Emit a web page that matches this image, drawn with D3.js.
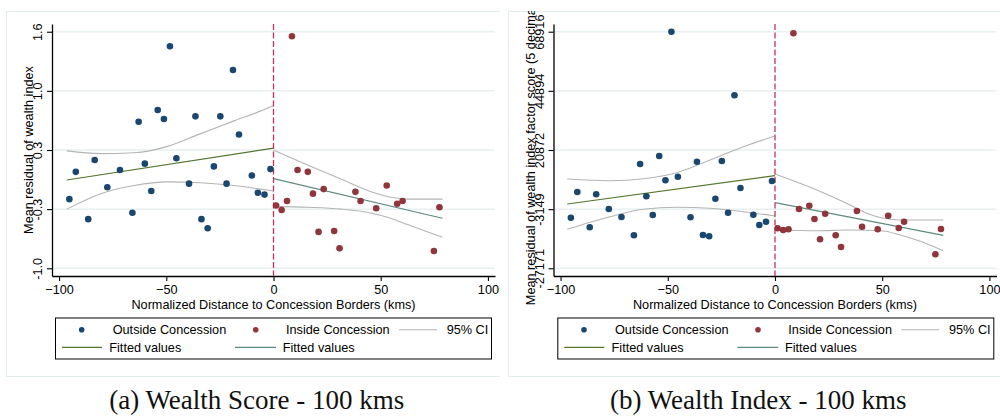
<!DOCTYPE html>
<html>
<head>
<meta charset="utf-8">
<script src="https://cdn.jsdelivr.net/npm/d3@7"></script>
<style>
  body { margin: 0; background: #fff; }
  svg { display: block; font-family: "Liberation Sans", Arial, sans-serif; }
</style>
</head>
<body>
<svg id="chart" width="1000" height="416"></svg>
<script>
// ---- data ----
var xTicks = [-100, -50, 0, 50, 100];

var scoreTicks = [-1.0, -0.35, 0.3, 0.95, 1.6];
var scoreTickLabels = ["-1.0", "-0.3", "0.3", "1.0", "1.6"];
var indexTicks = [-27171, -3149, 20872, 44894, 68916];
var indexTickLabels = ["-27171", "-3149", "20872", "44894", "68916"];

var outsideX = [-95.2, -92.2, -86.4, -83.4, -77.5, -71.6, -65.8, -62.9, -60.0, -57.0, -54.0, -51.1, -48.3, -45.3,
    -39.4, -36.4, -33.6, -30.7, -27.8, -24.8, -21.9, -18.9, -16.1, -10.1, -7.3, -4.2, -1.4];
var insideX = [1.2, 3.8, 6.3, 8.6, 11.2, 16.0, 18.4, 21.0, 23.4, 28.3, 30.8, 38.2, 40.6, 47.9, 52.8, 57.7, 60.2, 74.8, 77.4];

var scoreOutside = [-0.24, 0.06, -0.46, 0.19, -0.11, 0.08, -0.39, 0.61, 0.15, -0.15, 0.74, 0.64, 1.44, 0.21,
    -0.07, 0.67, -0.46, -0.56, 0.12, 0.67, -0.07, 1.18, 0.47, 0.02, -0.17, -0.19, 0.09];
var scoreInside = [-0.31, -0.36, -0.26, 1.55, 0.08, 0.06, -0.18, -0.60, -0.13, -0.59, -0.78, -0.16, -0.26,
    -0.34, -0.09, -0.29, -0.26, -0.81, -0.33];

var indexOutside = [-6619, 3818, -10517, 2884, -3086, -6334, -13766, 15189, 2072, -5522, 18438, 8570, 68916, 10031,
    -6456, 16123, -13644, -14172, 1097, 16407, -4588, 43088, 5443, -5400, -9583, -8243, 8285];
var indexInside = [-10923, -11614, -11329, 68266, -3086, -1745, -7147, -15390, -4994, -13766, -18517, -3898, -10274,
    -11329, -5806, -10801, -8243, -21482, -11208];

// fitted lines and 95% CI bands
var scoreFitOutX = [-96.4, 0], scoreFitOut = [-0.03, 0.32];
var scoreFitInX = [0, 78.8], scoreFitIn = [-0.015, -0.45];
var scoreCiOutX = [-96.4, -80.5, -65.0, -49.4, -33.9, -18.4, -5.9, 0];
var scoreCiOutHi = [0.29, 0.26, 0.27, 0.34, 0.48, 0.62, 0.73, 0.79];
var scoreCiOutLo = [-0.35, -0.18, -0.09, -0.05, -0.06, -0.09, -0.13, -0.15];
var scoreCiInX = [0, 15.9, 31.4, 46.9, 54.7, 62.5, 78.8];
var scoreCiInHi = [0.30, 0.135, -0.02, -0.17, -0.22, -0.24, -0.24];
var scoreCiInLo = [-0.32, -0.33, -0.35, -0.40, -0.45, -0.52, -0.66];

var indexFitOutX = [-96.9, 0], indexFitOut = [-1055, 10438];
var indexFitInX = [0, 78.5], indexFitIn = [-527, -13766];
var indexCiOutX = [-96.9, -77.0, -61.4, -45.9, -30.3, -14.8, 0];
var indexCiOutHi = [9097, 8407, 9219, 11656, 16813, 22214, 26560];
var indexCiOutLo = [-11329, -6213, -3207, -2395, -2801, -4182, -5928];
var indexCiInHiX = [0, 19.5, 35.0, 42.8, 50.5, 58.3, 78.5];
var indexCiInHi = [11128, 4630, -1461, -4832, -6862, -7553, -7553];
var indexCiInLoX = [0, 19.5, 35.0, 50.5, 58.3, 66.1, 78.5];
var indexCiInLo = [-11614, -11898, -11614, -12020, -13644, -15675, -20020];

var legendLabels = ["Outside Concession", "Inside Concession", "95% CI", "Fitted values", "Fitted values"];
var captions = ["(a) Wealth Score - 100 kms", "(b) Wealth Index - 100 kms"];

var colOut = "#1a476f", colIn = "#90353b", colCi = "#b4b4b4",
    colFitOut = "#55752f", colFitIn = "#5f8a80", colLine = "#c8325a",
    colGrid = "#e8f0f1", colFrame = "#e4edee";
var fs = "12.7px";

var svg = d3.select("#chart");
svg.append("rect").attr("width", 1000).attr("height", 416).attr("fill", "#fff");

function zip(xs, ys) {
    return xs.map(function(d, i) { return [d, ys[i]]; });
}

function DrawPanel(p) {
    var g = svg.append("g");
    var clipId = "clip" + p.id;
    svg.append("clipPath").attr("id", clipId)
        .append("rect").attr("x", p.left - 2).attr("y", 11).attr("width", 496).attr("height", 366);
    g.attr("clip-path", "url(#" + clipId + ")");

    // light frame around the graph region
    g.append("rect")
        .attr("x", p.left + 0.5).attr("y", 11.5)
        .attr("width", p.frameW).attr("height", 365)
        .attr("fill", "none").attr("stroke", colFrame).attr("stroke-width", 1.2);

    var x = d3.scaleLinear().domain([-103.3, 103.3]).range([p.plotL, p.plotL + 443]);
    var y = d3.scaleLinear().domain(p.yDomain).range([276, 24]);

    // grid
    g.selectAll(".grid").data(p.yTicks).enter().append("line")
        .attr("x1", p.plotL).attr("x2", p.plotL + 443)
        .attr("y1", function(d) { return y(d); }).attr("y2", function(d) { return y(d); })
        .attr("stroke", colGrid).attr("stroke-width", 1.5);

    // axes
    var yAxis = g.append("g").attr("transform", "translate(" + p.plotL + ",0)")
        .call(d3.axisLeft(y).tickValues(p.yTicks).tickSize(5).tickSizeOuter(0)
            .tickFormat(function(d, i) { return p.yLabels[i]; }));
    yAxis.select(".domain").attr("stroke", "#000").attr("stroke-width", 1.3);
    yAxis.selectAll(".tick line").attr("stroke", "#000").attr("stroke-width", 1.1);
    yAxis.selectAll(".tick text")
        .attr("transform", "rotate(-90)")
        .attr("x", 0).attr("y", -10).attr("dy", 0)
        .attr("text-anchor", "middle")
        .style("font-size", fs).style("font-family", "Liberation Sans, Arial, sans-serif").attr("fill", "#000");

    var xAxis = g.append("g").attr("transform", "translate(0,276)")
        .call(d3.axisBottom(x).tickValues(xTicks).tickSize(5).tickSizeOuter(0));
    xAxis.select(".domain").attr("stroke", "#000").attr("stroke-width", 1.3);
    xAxis.selectAll(".tick line").attr("stroke", "#000").attr("stroke-width", 1.1);
    xAxis.selectAll(".tick text").attr("y", 8.5).attr("dy", "0.71em")
        .style("font-size", fs).style("font-family", "Liberation Sans, Arial, sans-serif").attr("fill", "#000");

    // axis titles
    g.append("text")
        .attr("transform", "translate(" + (p.plotL - 19) + ",150) rotate(-90)")
        .attr("text-anchor", "middle").style("font-size", fs)
        .text(p.yTitle);
    g.append("text")
        .attr("x", x(0)).attr("y", 308.8)
        .attr("text-anchor", "middle").style("font-size", fs)
        .text("Normalized Distance to Concession Borders (kms)");

    var line = d3.line()
        .x(function(d) { return x(d[0]); })
        .y(function(d) { return y(d[1]); })
        .curve(d3.curveMonotoneX);

    // confidence bands
    [p.ciOutHi, p.ciOutLo, p.ciInHi, p.ciInLo].forEach(function(c) {
        g.append("path").datum(c).attr("d", line)
            .attr("fill", "none").attr("stroke", colCi).attr("stroke-width", 1.1);
    });
    g.append("path").datum(p.fitOut).attr("d", line)
        .attr("fill", "none").attr("stroke", colFitOut).attr("stroke-width", 1.2);
    g.append("path").datum(p.fitIn).attr("d", line)
        .attr("fill", "none").attr("stroke", colFitIn).attr("stroke-width", 1.2);

    // border line at 0
    g.append("line")
        .attr("x1", x(0)).attr("x2", x(0)).attr("y1", 24).attr("y2", 276)
        .attr("stroke", colLine).attr("stroke-width", 1.3)
        .attr("stroke-dasharray", "6,2.5");

    g.selectAll(".out").data(p.outside).enter().append("circle")
        .attr("cx", function(d) { return x(d[0]); })
        .attr("cy", function(d) { return y(d[1]); })
        .attr("r", 3.3).attr("fill", colOut);
    g.selectAll(".in").data(p.inside).enter().append("circle")
        .attr("cx", function(d) { return x(d[0]); })
        .attr("cy", function(d) { return y(d[1]); })
        .attr("r", 3.3).attr("fill", colIn);

    // legend
    var lg = g.append("g").attr("transform", "translate(" + p.legendL + ",317.5)");
    lg.append("rect").attr("x", 0.5).attr("y", 0.5).attr("width", 436).attr("height", 41)
        .attr("fill", "#fff").attr("stroke", "#000").attr("stroke-width", 1);
    lg.append("circle").attr("cx", 26.7).attr("cy", 12.3).attr("r", 2.8).attr("fill", colOut);
    lg.append("circle").attr("cx", 200.7).attr("cy", 12.3).attr("r", 2.8).attr("fill", colIn);
    lg.append("line").attr("x1", 344).attr("x2", 382).attr("y1", 12.3).attr("y2", 12.3)
        .attr("stroke", colCi).attr("stroke-width", 1.1);
    lg.append("line").attr("x1", 7).attr("x2", 47).attr("y1", 29.8).attr("y2", 29.8)
        .attr("stroke", colFitOut).attr("stroke-width", 1.2);
    lg.append("line").attr("x1", 180).attr("x2", 221).attr("y1", 29.8).attr("y2", 29.8)
        .attr("stroke", colFitIn).attr("stroke-width", 1.2);
    var lx = [57.7, 231, 391.7, 54.3, 227.7], ly = [16.7, 16.7, 16.7, 34.2, 34.2];
    lg.selectAll(".lt").data(legendLabels).enter().append("text")
        .attr("x", function(d, i) { return lx[i]; })
        .attr("y", function(d, i) { return ly[i]; })
        .style("font-size", fs)
        .text(function(d) { return d; });
}

DrawPanel({
    id: "a", left: 6, frameW: 494, plotL: 52, legendL: 55,
    yDomain: [-1.085, 1.685], yTicks: scoreTicks, yLabels: scoreTickLabels,
    yTitle: "Mean residual of wealth index",
    outside: zip(outsideX, scoreOutside), inside: zip(insideX, scoreInside),
    fitOut: zip(scoreFitOutX, scoreFitOut), fitIn: zip(scoreFitInX, scoreFitIn),
    ciOutHi: zip(scoreCiOutX, scoreCiOutHi), ciOutLo: zip(scoreCiOutX, scoreCiOutLo),
    ciInHi: zip(scoreCiInX, scoreCiInHi), ciInLo: zip(scoreCiInX, scoreCiInLo)
});

DrawPanel({
    id: "b", left: 508, frameW: 500, plotL: 553.5, legendL: 557.3,
    yDomain: [-30298, 72043], yTicks: indexTicks, yLabels: indexTickLabels,
    yTitle: "Mean residual of wealth index factor score (5 decimals)",
    outside: zip(outsideX, indexOutside), inside: zip(insideX, indexInside),
    fitOut: zip(indexFitOutX, indexFitOut), fitIn: zip(indexFitInX, indexFitIn),
    ciOutHi: zip(indexCiOutX, indexCiOutHi), ciOutLo: zip(indexCiOutX, indexCiOutLo),
    ciInHi: zip(indexCiInHiX, indexCiInHi), ciInLo: zip(indexCiInLoX, indexCiInLo)
});

// sub-figure captions
svg.selectAll(".caption").data(captions)
    .enter().append("text")
    .attr("x", function(d, i) { return i == 0 ? 256.7 : 758.3; })
    .attr("y", 409)
    .attr("text-anchor", "middle")
    .style("font-family", "'Liberation Serif', 'DejaVu Serif', serif")
    .style("font-size", "27px")
    .attr("fill", "#111")
    .text(function(d) { return d; });
</script>
</body>
</html>
